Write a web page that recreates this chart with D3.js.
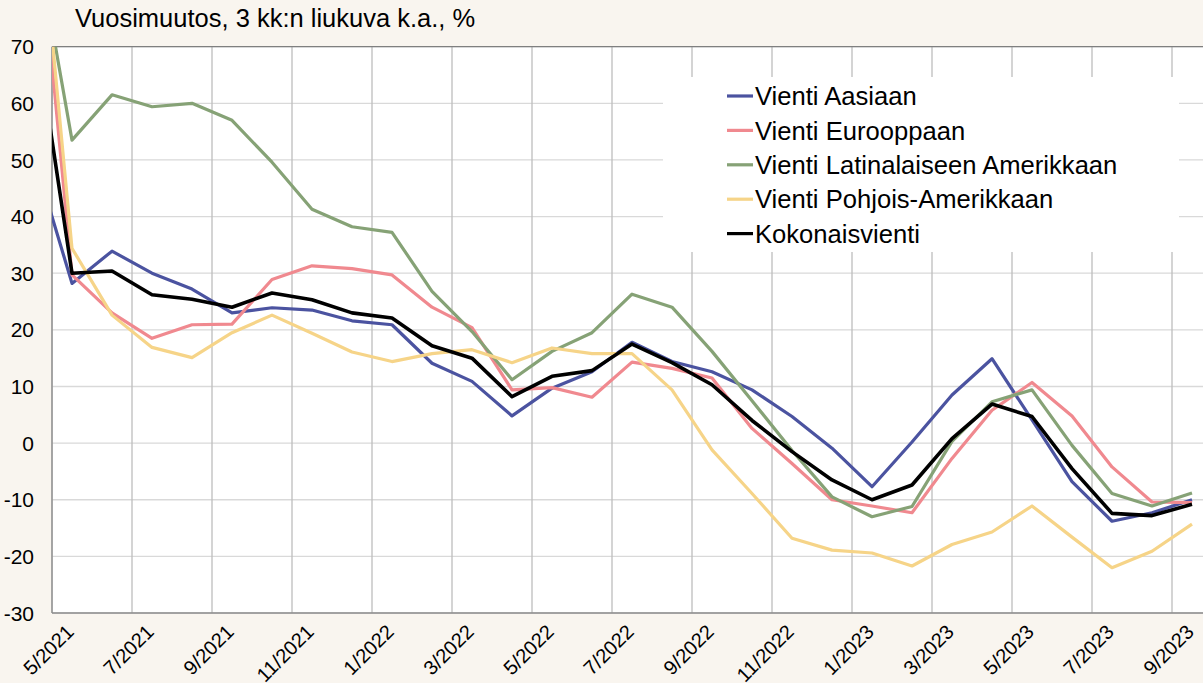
<!DOCTYPE html>
<html>
<head>
<meta charset="utf-8">
<script src="https://cdn.jsdelivr.net/npm/d3@7"></script>
<style>
        body { margin: 0; background: #f9f5ef; }
        svg { display: block; font-family: "Liberation Sans", Arial, sans-serif; }
</style>
</head>
<body>
<svg id="chart"></svg>
<script>
'use strict';

// months, 4/2021 is only there so the first segment runs in from the left edge
var months = ["4/2021", "5/2021", "6/2021", "7/2021", "8/2021", "9/2021", "10/2021", "11/2021", "12/2021",
        "1/2022", "2/2022", "3/2022", "4/2022", "5/2022", "6/2022", "7/2022", "8/2022", "9/2022", "10/2022",
        "11/2022", "12/2022", "1/2023", "2/2023", "3/2023", "4/2023", "5/2023", "6/2023", "7/2023", "8/2023", "9/2023"];

var tickLabels = ["5/2021", "7/2021", "9/2021", "11/2021", "1/2022", "3/2022", "5/2022", "7/2022",
        "9/2022", "11/2022", "1/2023", "3/2023", "5/2023", "7/2023", "9/2023"];

var yTicks = [-30, -20, -10, 0, 10, 20, 30, 40, 50, 60, 70];

var seriesNames = ["Vienti Aasiaan", "Vienti Eurooppaan", "Vienti Latinalaiseen Amerikkaan",
        "Vienti Pohjois-Amerikkaan", "Kokonaisvienti"];

var aasia = [51.8, 28.2, 33.9, 30, 27.2, 23, 23.9, 23.5, 21.6, 20.9, 14.1, 10.9, 4.8, 9.7, 12.6, 17.8,
        14.4, 12.6, 9.4, 4.7, -0.9, -7.7, 0.2, 8.5, 14.9, 4.1, -6.8, -13.8, -12.3, -10];
var eurooppa = [104, 29.7, 23, 18.5, 20.9, 21, 28.9, 31.3, 30.8, 29.7, 24, 20.4, 9.4, 9.8, 8.1, 14.3,
        13.2, 11.5, 2.6, -3.6, -10, -11.1, -12.3, -2.7, 5.8, 10.7, 4.8, -4.2, -10.4, -10.5];
var latam = [93.5, 53.5, 61.5, 59.4, 60, 57, 49.6, 41.3, 38.2, 37.2, 26.8, 19.7, 11.2, 16.2, 19.5, 26.3,
        24, 16.2, 7.5, -1.3, -9.5, -13, -11.2, 0.3, 7.3, 9.4, -0.4, -8.9, -11.1, -8.8];
var pohjoisAm = [109, 34.4, 22.6, 16.9, 15.1, 19.5, 22.6, 19.4, 16.1, 14.4, 15.8, 16.5, 14.2, 16.8, 15.8, 15.8,
        9.4, -1.2, -8.9, -16.8, -18.9, -19.4, -21.7, -17.9, -15.7, -11.1, -16.6, -22, -19.1, -14.3];
var kokonais = [77, 30, 30.4, 26.2, 25.4, 24, 26.5, 25.3, 23, 22.1, 17.2, 15, 8.2, 11.8, 12.8, 17.5,
        14.2, 10.3, 4, -1.5, -6.5, -10, -7.4, 0.8, 6.9, 4.7, -4.5, -12.4, -12.8, -10.8];

var colors = ["#4b53a0", "#f0898f", "#86a276", "#f6d488", "#000000"];

var chartDim = { width: 1203, height: 683 };
var margin = { top: 46.7, left: 52, bottom: 70 };
var plotRight = 1212;   // plot runs a bit past the picture edge
var height = chartDim.height - margin.top - margin.bottom;

var allSeries = [aasia, eurooppa, latam, pohjoisAm, kokonais];

// index 1 (5/2021) sits in the middle of the first 40px band
var x = d3.scaleLinear()
        .domain([0.5, months.length - 0.5])
        .range([margin.left, plotRight]);

var y = d3.scaleLinear()
        .domain([-30, 70])
        .range([margin.top + height, margin.top]);

var svg = d3.select("#chart")
        .attr("width", chartDim.width)
        .attr("height", chartDim.height);

svg.append("defs").append("clipPath")
        .attr("id", "plotClip")
        .append("rect")
        .attr("x", margin.left)
        .attr("y", margin.top)
        .attr("width", plotRight - margin.left)
        .attr("height", height);

// plot background
svg.append("rect")
        .attr("x", margin.left)
        .attr("y", margin.top)
        .attr("width", plotRight - margin.left)
        .attr("height", height)
        .attr("fill", "#fff");

// horizontal grid
svg.append("g")
        .selectAll("line")
        .data(yTicks)
        .enter().append("line")
        .attr("x1", margin.left)
        .attr("x2", plotRight)
        .attr("y1", function(d) { return y(d); })
        .attr("y2", function(d) { return y(d); })
        .attr("stroke", "#d9d9d9")
        .attr("stroke-width", 1.3);

// vertical grid, at the left edge of every labelled month
svg.append("g")
        .selectAll("line")
        .data(tickLabels)
        .enter().append("line")
        .attr("x1", function(d) { return x(months.indexOf(d) - 0.5); })
        .attr("x2", function(d) { return x(months.indexOf(d) - 0.5); })
        .attr("y1", margin.top)
        .attr("y2", margin.top + height)
        .attr("stroke", "#bdbdbd")
        .attr("stroke-width", 1.3);

// frame lines
svg.append("line")
        .attr("x1", margin.left).attr("x2", plotRight)
        .attr("y1", margin.top).attr("y2", margin.top)
        .attr("stroke", "#7f7f7f").attr("stroke-width", 1.3);
svg.append("line")
        .attr("x1", margin.left).attr("x2", margin.left)
        .attr("y1", margin.top).attr("y2", margin.top + height)
        .attr("stroke", "#8c8c8c").attr("stroke-width", 1.3);
svg.append("line")
        .attr("x1", margin.left).attr("x2", plotRight)
        .attr("y1", margin.top + height).attr("y2", margin.top + height)
        .attr("stroke", "#8c8c8c").attr("stroke-width", 1.3);

// legend box covers the grid
var legendBox = { x: 663, y: 77, w: 516, h: 175 };
svg.append("rect")
        .attr("x", legendBox.x)
        .attr("y", legendBox.y)
        .attr("width", legendBox.w)
        .attr("height", legendBox.h)
        .attr("fill", "#fff");

var line = d3.line()
        .x(function(d, i) { return x(i); })
        .y(function(d) { return y(d); });

svg.append("g")
        .attr("clip-path", "url(#plotClip)")
        .selectAll("path")
        .data(allSeries)
        .enter().append("path")
        .attr("d", line)
        .attr("fill", "none")
        .attr("stroke", function(d, i) { return colors[i]; })
        .attr("stroke-width", function(d, i) { return i === 4 ? 3.6 : 3.2; })
        .attr("stroke-linejoin", "round");

// y axis labels
svg.append("g")
        .selectAll("text")
        .data(yTicks)
        .enter().append("text")
        .attr("x", 34)
        .attr("y", function(d) { return y(d); })
        .attr("dy", "0.36em")
        .attr("text-anchor", "end")
        .attr("font-size", "21px")
        .attr("fill", "#000")
        .text(function(d) { return d; });

// x axis labels, rotated
svg.append("g")
        .selectAll("text")
        .data(tickLabels)
        .enter().append("text")
        .attr("transform", function(d) {
                return "translate(" + (x(months.indexOf(d)) - 2) + "," + (margin.top + height + 15) + ") rotate(-45)";
        })
        .attr("dy", "0.36em")
        .attr("text-anchor", "end")
        .attr("font-size", "20px")
        .attr("fill", "#000")
        .text(function(d) { return d; });

// title
svg.append("text")
        .attr("x", 75)
        .attr("y", 27)
        .attr("font-size", "25.5px")
        .attr("fill", "#000")
        .text("Vuosimuutos, 3 kk:n liukuva k.a., %");

// legend
var legend = svg.append("g")
        .selectAll("g")
        .data(seriesNames)
        .enter().append("g")
        .attr("transform", function(d, i) { return "translate(727," + (96 + i * 34.4) + ")"; });

legend.append("line")
        .attr("x1", 0)
        .attr("x2", 26)
        .attr("stroke", function(d, i) { return colors[i]; })
        .attr("stroke-width", 3.2);

legend.append("text")
        .attr("x", 28)
        .attr("dy", "0.36em")
        .attr("font-size", "25.6px")
        .attr("fill", "#000")
        .text(function(d) { return d; });
</script>
</body>
</html>
